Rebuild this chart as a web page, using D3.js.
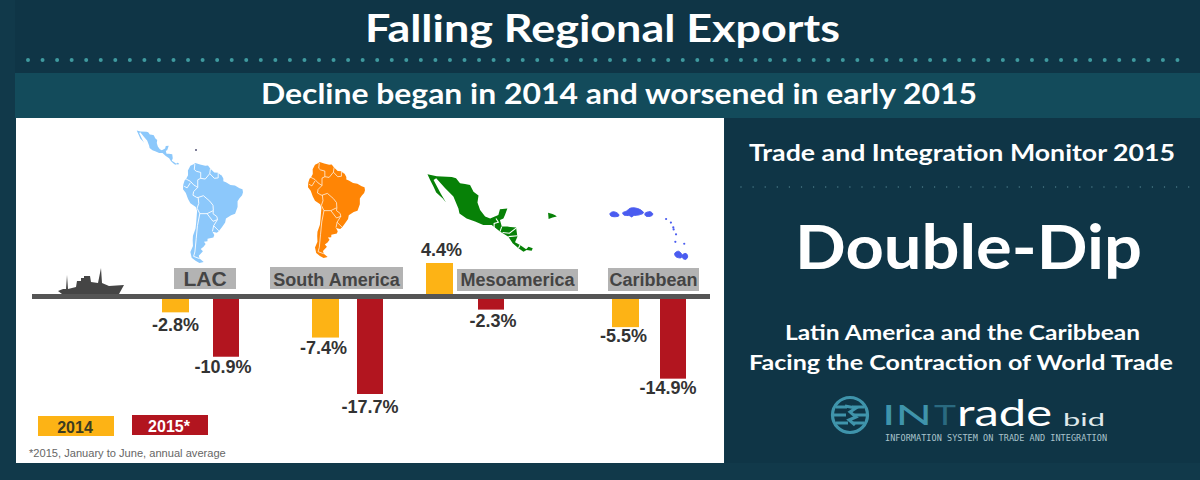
<!DOCTYPE html>
<html>
<head>
<meta charset="utf-8">
<script src="https://cdn.jsdelivr.net/npm/d3@7"></script>
<style>
  html, body { margin: 0; padding: 0; background: #11394a; overflow: hidden; }
  svg { display: block; }
  .head { font-family: Lato, sans-serif; fill: #fff; text-anchor: middle; font-weight: 700; }
  .arial { font-family: 'Liberation Sans', Arial, sans-serif; font-weight: bold; }
</style>
</head>
<body>
<div id="plot"></div>
<script>
// chart values
var regions = ['LAC', 'South America', 'Mesoamerica', 'Caribbean'];
var years = ['2014', '2015*'];
var values2014 = [-2.8, -7.4, 4.4, -5.5];
var values2015 = [-10.9, -17.7, -2.3, -14.9];

// map outlines, lon/lat
var southAmerica = [[-71.7,12.4],[-68,11.4],[-64,10.5],[-61.9,10.7],[-60,8.5],[-57,6],[-54,5.8],[-51.5,4.3],[-50,1.8],[-50,0],[-48,-0.7],[-44.5,-2.5],[-41,-2.9],[-37.5,-4.7],[-35.2,-5.5],[-34.8,-7.5],[-35.5,-9.5],[-37.5,-11.5],[-39,-13.5],[-39,-17.5],[-40.9,-22],[-44,-23],[-48,-25.3],[-48.6,-28],[-51,-31],[-53.4,-33.8],[-55,-34.9],[-58.4,-34.2],[-57,-36.5],[-57.7,-38.2],[-62.2,-39],[-62.3,-40.8],[-65,-41],[-63.7,-42.6],[-65.3,-44.5],[-67.5,-46],[-65.8,-47.5],[-69,-50.5],[-68.4,-52.5],[-65.2,-54.8],[-68.5,-55.5],[-71.5,-54],[-74.5,-52],[-75.5,-48],[-73.5,-44],[-73.7,-40],[-73.5,-37],[-71.5,-32],[-71,-28],[-70.3,-20],[-71.3,-17.5],[-75.5,-15],[-77.3,-12],[-79,-8],[-81.2,-5.5],[-81,-2.3],[-80,0.5],[-78.8,1.5],[-77.3,4],[-77.4,7.3],[-75.5,10.5],[-73,11.5]];
var southBorders = [
  [[-72,11.8],[-72.5,8],[-71,6.8],[-67.5,6],[-67.5,2],[-69.8,1],[-69.8,-4.2],[-73,-7],[-73.5,-9.5],[-70.5,-11],[-69.5,-11],[-65.4,-9.8],[-60.5,-13.5],[-58,-16.3],[-57.7,-20],[-58,-22],[-55,-24],[-54.5,-26],[-57.5,-30.2],[-53.5,-33.7]],
  [[-67.5,2],[-64,1.5],[-60.5,5.2],[-60,8.5]],
  [[-60.5,5.2],[-57,2],[-54,2.3],[-54,5.8],[-51.5,4.3]],
  [[-78.8,1.5],[-75.5,0],[-73,-2.4],[-69.8,-4.2]],
  [[-80.3,-3.4],[-78,-4.5],[-75.5,-1]],
  [[-70.3,-18.3],[-69,-15],[-69.5,-11]],
  [[-70.3,-18.3],[-68.2,-22],[-70,-30],[-71,-39],[-72,-48],[-73,-51],[-68.4,-52.5]],
  [[-68.2,-22],[-62.6,-22],[-58,-20]],
  [[-62.6,-22],[-58,-27.2],[-54.5,-26]],
  [[-58.4,-34],[-57.5,-30.2]]
];
var mesoamerica = [[-117.3,32.1],[-113.8,31.5],[-108.1,31.2],[-106.5,30.8],[-105,29.2],[-103.1,29],[-101.2,28.7],[-99.9,26.5],[-98,25.3],[-98.4,23.1],[-97.4,20.7],[-95.5,18.6],[-93.6,18],[-90.5,19.1],[-89.9,20.9],[-87.1,21.2],[-88,19.1],[-88.6,18],[-89.9,17.5],[-89.2,15.4],[-87.1,15.4],[-83.8,15.1],[-83.3,12.2],[-84.2,10.4],[-82.3,9.5],[-80,8.2],[-79.1,9],[-77.5,8.5],[-77.9,7.7],[-79.8,7.9],[-81,7.4],[-82.9,8.5],[-85.1,10.1],[-86.7,12.2],[-89.9,13.8],[-93,15.9],[-96.2,15.9],[-99.3,17],[-102.5,18],[-105.2,19.6],[-105.6,21.2],[-107.5,25],[-110.6,27.6],[-114,30.8],[-115,30.3],[-112.3,26],[-110.3,23.1],[-111.5,24.4],[-114,26.3],[-115,28.1],[-116.3,30.3]];
var mesoBorders = [
  [[-91.4,18],[-90.5,16.8],[-92.1,16.4],[-92.1,14.9],[-91.4,14.3]],
  [[-89.2,15.4],[-89.9,13.8]],
  [[-88.9,13.5],[-86.3,13.3],[-83.8,14.9]],
  [[-86.7,12.2],[-83.3,12.5]],
  [[-82.3,9.5],[-82.9,8.5]]
];
var dominican = [[-71.7,19.8],[-70,19.4],[-69,19],[-68.4,18.6],[-70,18.3],[-71.5,17.8]];
var caribbeanBlobs = [
  [[-78.4,18.7],[-77.4,19.25],[-76,18.6],[-75.8,18],[-77.2,17.7],[-78.2,18]],
  [[-74.7,18.9],[-73.5,19.5],[-72.5,20.3],[-71.1,20.4],[-69.6,19.9],[-68.6,18.9],[-69.8,18.3],[-71.6,18],[-72,17.6],[-72.6,18],[-74.3,18.2]],
  [[-68.2,18.7],[-66.7,19.25],[-65.9,18.6],[-66.2,18],[-67.9,17.9]],
  [[-59.5,6.4],[-58.4,7.1],[-57.4,6.1],[-57.6,5.1],[-59.1,5.4]],
  [[-57.3,5.9],[-56.2,6.4],[-55.7,5.6],[-56.2,4.6],[-57.1,4.9]]
];
var caribbeanDots = [[-62,17],[-60.6,15.9],[-59.9,14.4],[-59.8,13.8],[-59.1,12.3],[-59.3,10],[-56.7,9.4]];

// layout
var W = 1200, H = 480;
var barKeys = [];
regions.forEach(function(r) {
  years.forEach(function(y) { barKeys.push(r + y); });
});

var xBar = d3.scaleOrdinal().domain(barKeys)
  .range([162, 213, 312, 357, 426, 478, 612, 660]);
var widthBar = d3.scaleOrdinal().domain(years).range([27, 26]);
var labelShift = d3.scaleOrdinal().domain(barKeys)
  .range([0, -3, -2, 0, 2, 2, -2, -5]);
var labelGap = d3.scaleOrdinal().domain(barKeys)
  .range([19, 16, 16, 19, -7, 17, 15, 15]);
// the reference draws the positive bar taller than the negative ones, so the scale has a knee at 0
var y = d3.scaleLinear().domain([-17.7, 0, 4.4]).range([394, 297, 263]);
var colour = d3.scaleOrdinal().domain(years).range(['#fdb315', '#b2151f']);

var svg = d3.select('#plot').append('svg')
  .attr('width', W).attr('height', H);

svg.append('rect').attr('width', W).attr('height', H).attr('fill', '#11394a');
svg.append('rect').attr('x', 15).attr('y', 0).attr('width', W - 15).attr('height', 73).attr('fill', '#0f3546');
svg.append('rect').attr('x', 15).attr('y', 73).attr('width', W - 15).attr('height', 45).attr('fill', '#134b5b');
svg.append('rect').attr('x', 725).attr('y', 118).attr('width', W - 725).attr('height', 345).attr('fill', '#0f3546');
svg.append('rect').attr('x', 16).attr('y', 118).attr('width', 708).attr('height', 345).attr('fill', '#fff');

// headings, stretched because Lato is narrower than the font in the reference
function heading(txt, x0, x1, base, size) {
  svg.append('text').attr('class', 'head')
    .attr('x', (x0 + x1) / 2).attr('y', base)
    .attr('textLength', x1 - x0).attr('lengthAdjust', 'spacingAndGlyphs')
    .style('font-size', size + 'px')
    .text(txt);
}

heading('Falling Regional Exports', 365, 840, 42, 38);
heading('Decline began in 2014 and worsened in early 2015', 261, 977, 104, 28);
heading('Trade and Integration Monitor 2015', 749, 1175, 161, 23);
heading('Double-Dip', 795, 1142, 269, 62);
heading('Latin America and the Caribbean', 785, 1140, 340, 21.5);
heading('Facing the Contraction of World Trade', 749, 1173, 370, 21.5);

// dotted rules
svg.append('line').attr('x1', 28).attr('x2', 1185).attr('y1', 60).attr('y2', 60)
  .attr('stroke', '#3f9a9f').attr('stroke-width', 4).attr('stroke-linecap', 'round')
  .attr('stroke-dasharray', '0 14.55');
svg.append('line').attr('x1', 741).attr('x2', 1190).attr('y1', 187).attr('y2', 187)
  .attr('stroke', '#4d7f8c').attr('stroke-width', 1.4).attr('stroke-linecap', 'round')
  .attr('stroke-dasharray', '0 12.1');

// maps
function makeMap(lon, lat, box) {
  var mx = d3.scaleLinear().domain(lon).range([box[0], box[1]]);
  var my = d3.scaleLinear().domain(lat).range([box[2], box[3]]);
  return function(p) { return [mx(p[0]), my(p[1])]; };
}

function drawShape(points, project, fill, curved) {
  var line = d3.line().curve(curved ? d3.curveCatmullRomClosed : d3.curveLinearClosed);
  svg.append('path').attr('d', line(points.map(project))).attr('fill', fill)
    .attr('stroke', curved ? fill : 'none').attr('stroke-width', 1);
}

function drawBorders(lines, project, width) {
  var line = d3.line();
  lines.forEach(function(l) {
    svg.append('path').attr('d', line(l.map(project)))
      .attr('fill', 'none').attr('stroke', '#fff').attr('stroke-width', width);
  });
}

var lacSouth = makeMap([-81.2, -34.8], [12.4, -55.5], [183, 243, 163, 263]);
var lacNorth = makeMap([-117.1, -77.4], [32.5, 7.3], [137, 179, 130, 165]);
drawShape(southAmerica, lacSouth, '#8cc8fb');
drawBorders(southBorders, lacSouth, 0.9);
drawShape(mesoamerica, lacNorth, '#8cc8fb');
svg.append('circle').attr('cx', 196).attr('cy', 150).attr('r', 1).attr('fill', '#557');

var soProj = makeMap([-81.2, -34.8], [12.4, -55.5], [308, 365, 162, 258]);
drawShape(southAmerica, soProj, '#ff8505');
drawBorders(southBorders, soProj, 0.7);

var mesoProj = makeMap([-117.1, -77.4], [32.5, 7.3], [428, 533, 173, 252]);
drawShape(mesoamerica, mesoProj, '#078107');
drawBorders(mesoBorders, mesoProj, 1.1);
drawShape(dominican, mesoProj, '#078107');

var caribProj = makeMap([-78.4, -55.6], [21, 4.4], [610, 688, 206, 260]);
caribbeanBlobs.forEach(function(b) { drawShape(b, caribProj, '#4a5cf0', true); });
svg.selectAll('circle.dot').data(caribbeanDots).enter().append('circle')
  .attr('class', 'dot')
  .attr('cx', function(d) { return caribProj(d)[0]; })
  .attr('cy', function(d) { return caribProj(d)[1]; })
  .attr('r', 1.1).attr('fill', '#4a5cf0');

// region labels
var labelBoxes = d3.scaleOrdinal().domain(regions)
  .range([[174, 236, 268, 289], [270, 403, 267, 289], [457, 578, 269, 291], [608, 699, 268, 291]]);
var labelSize = d3.scaleOrdinal().domain(regions).range([21, 18, 18, 18]);

regions.forEach(function(r) {
  var b = labelBoxes(r);
  svg.append('rect').attr('x', b[0]).attr('y', b[2]).attr('width', b[1] - b[0]).attr('height', b[3] - b[2]).attr('fill', '#b3b3b3');
  svg.append('text').attr('class', 'arial').attr('x', (b[0] + b[1]) / 2).attr('y', 286)
    .attr('text-anchor', 'middle').attr('fill', '#444').style('font-size', labelSize(r) + 'px')
    .text(r);
});

// bars
var bars = [];
regions.forEach(function(r, i) {
  bars.push({ key: r + years[0], year: years[0], v: values2014[i] });
  bars.push({ key: r + years[1], year: years[1], v: values2015[i] });
});

svg.selectAll('rect.bar').data(bars).enter().append('rect')
  .attr('class', 'bar')
  .attr('x', function(d) { return xBar(d.key); })
  .attr('width', function(d) { return widthBar(d.year); })
  .attr('y', function(d) { return Math.min(y(d.v), y(0)); })
  .attr('height', function(d) { return Math.abs(y(d.v) - y(0)); })
  .attr('fill', function(d) { return colour(d.year); });

svg.selectAll('text.val').data(bars).enter().append('text')
  .attr('class', 'val arial')
  .attr('x', function(d) { return xBar(d.key) + widthBar(d.year) / 2 + labelShift(d.key); })
  .attr('y', function(d) { return y(d.v) + labelGap(d.key); })
  .attr('text-anchor', 'middle').attr('fill', '#333')
  .style('font-size', '18px')
  .text(function(d) { return d.v.toFixed(1) + '%'; });

// baseline
svg.append('rect').attr('x', 32).attr('y', y(0) - 3).attr('width', 678).attr('height', 5).attr('fill', '#555');

// ship
svg.append('path')
  .attr('d', 'M58,291 L63,289 L66,289 L67,275 L68,289 L76,287 L77,281 L81,281 L81,278 L84,278 L84,276 L90,276 L91,282 L98,283 L101,268 L102,283 L109,286 L124,285 L119,294 L62,294 Z')
  .attr('fill', '#454545');

// legend
var legendBoxes = d3.scaleOrdinal().domain(years).range([[38, 416], [132, 415]]);
var legendText = d3.scaleOrdinal().domain(years).range(['#3c3c20', '#fff']);
years.forEach(function(yr) {
  var p = legendBoxes(yr);
  svg.append('rect').attr('x', p[0]).attr('y', p[1]).attr('width', 76).attr('height', 20).attr('fill', colour(yr));
  svg.append('text').attr('class', 'arial').attr('x', p[0] + 37).attr('y', p[1] + 17)
    .attr('text-anchor', 'middle').attr('fill', legendText(yr)).style('font-size', '16px').text(yr);
});

svg.append('text').attr('x', 29).attr('y', 457)
  .style('font-family', "'Liberation Sans', Arial, sans-serif").style('font-size', '11.1px')
  .attr('fill', '#666').text('*2015, January to June, annual average');

// logo
var logo = svg.append('g');
var logoBlue = '#3f94ab';
logo.append('circle').attr('cx', 850).attr('cy', 415).attr('r', 17.5).attr('fill', 'none').attr('stroke', logoBlue).attr('stroke-width', 3.2);
[[836, 847, 407], [852, 864, 407], [834, 846, 415], [854, 866, 415], [836, 848, 423], [853, 864, 423]].forEach(function(s) {
  logo.append('line').attr('x1', s[0]).attr('x2', s[1]).attr('y1', s[2]).attr('y2', s[2])
    .attr('stroke', logoBlue).attr('stroke-width', 3);
});
logo.append('path').attr('d', 'M845,406 L856,408 L850,412 L856,417 L849,420 L855,425')
  .attr('fill', 'none').attr('stroke', logoBlue).attr('stroke-width', 3);
logo.append('text').attr('x', 882).attr('y', 425).attr('textLength', 50).attr('lengthAdjust', 'spacingAndGlyphs')
  .style('font-family', 'Lato, sans-serif').style('font-size', '27px').style('font-weight', 400)
  .attr('fill', logoBlue).text('IN');
logo.append('text').attr('x', 934).attr('y', 425).attr('textLength', 22).attr('lengthAdjust', 'spacingAndGlyphs')
  .style('font-family', 'Lato, sans-serif').style('font-size', '27px').style('font-weight', 400)
  .attr('fill', '#2a6a80').text('T');
logo.append('text').attr('x', 957).attr('y', 426).attr('textLength', 95).attr('lengthAdjust', 'spacingAndGlyphs')
  .style('font-family', 'Lato, sans-serif').style('font-size', '37px').style('font-weight', 400)
  .attr('fill', '#fff').text('rade');
logo.append('text').attr('x', 1063).attr('y', 426).attr('textLength', 42).attr('lengthAdjust', 'spacingAndGlyphs')
  .style('font-family', 'Lato, sans-serif').style('font-size', '17px').style('font-weight', 400)
  .attr('fill', '#dfe8ea').text('bid');
logo.append('text').attr('x', 885).attr('y', 441).attr('textLength', 222)
  .style('font-family', "'DejaVu Sans Mono', monospace").style('font-size', '8.5px')
  .attr('fill', '#a9c4cc').text('INFORMATION SYSTEM ON TRADE AND INTEGRATION');
</script>
</body>
</html>
